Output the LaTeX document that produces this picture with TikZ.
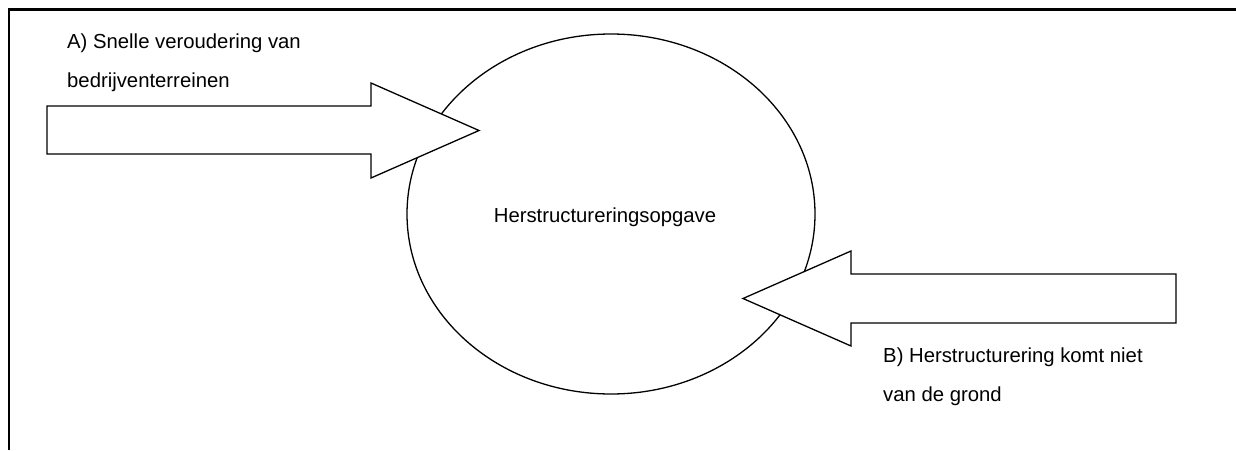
\documentclass[tikz,border=0pt]{standalone}
\usepackage{fontspec}
\setmainfont{Liberation Sans}
\usetikzlibrary{shapes.geometric}
\begin{document}
\begin{tikzpicture}[x=1pt,y=-1pt,
  lbl/.style={inner sep=0pt, anchor=base west, font=\fontsize{20.3}{24}\selectfont},
  blockarrow/.style={draw=black, fill=white, line width=1.3pt, line join=miter},
  frameline/.style={draw=black, line width=2.4pt}]
\useasboundingbox (0,0) rectangle (1236,450);
% frame
\draw[frameline] (9,450) -- (9,9.5) -- (1236,9.5);
% central ellipse
\node[ellipse, draw, line width=1.3pt, minimum width=408pt, minimum height=360pt, inner sep=0pt] (E) at (611,214) {};
\node[inner sep=0pt, anchor=base, font=\fontsize{20.3}{24}\selectfont] (Etxt) at (605,222) {Herstructureringsopgave};
% arrow A
\draw[blockarrow] (47,106) -- (371,106) -- (371,83) -- (479,130.5) -- (371,178) -- (371,154) -- (47,154) -- cycle;
% arrow B
\draw[blockarrow] (1176,274) -- (851,274) -- (851,251) -- (743,298.5) -- (851,346) -- (851,323) -- (1176,323) -- cycle;
% labels
\node[lbl] (A1) at (67,48.5) {A) Snelle veroudering van};
\node[lbl] (A2) at (67,87.3) {bedrijventerreinen};
\node[lbl] (B1) at (883,362) {B) Herstructurering komt niet};
\node[lbl] (B2) at (883,401) {van de grond};
\end{tikzpicture}
\end{document}
